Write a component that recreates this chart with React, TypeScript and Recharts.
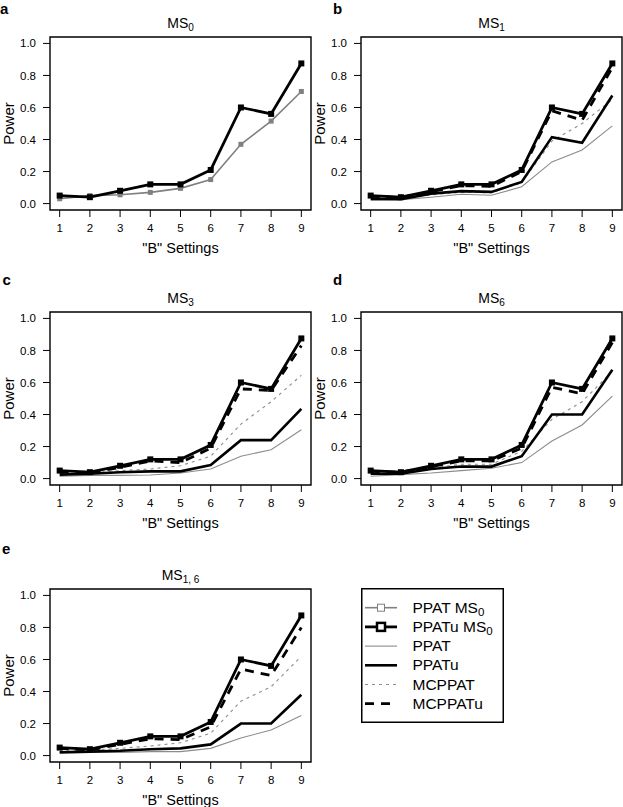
import React from 'react';
import { LineChart, Line, XAxis, YAxis, ReferenceArea } from 'recharts';

// ---------- data ----------
const settings = [1, 2, 3, 4, 5, 6, 7, 8, 9];
const yTicks = [0, 0.2, 0.4, 0.6, 0.8, 1.0];

const ppatMS0 = [0.03, 0.05, 0.055, 0.07, 0.095, 0.15, 0.37, 0.515, 0.7];
const ppatuMS0 = [0.05, 0.04, 0.08, 0.12, 0.12, 0.21, 0.6, 0.56, 0.875];

const ms1PPAT = [0.02, 0.025, 0.04, 0.058, 0.052, 0.105, 0.26, 0.335, 0.485];
const ms1PPATu = [0.03, 0.027, 0.062, 0.078, 0.073, 0.135, 0.415, 0.38, 0.675];
const ms1MCPPAT = [0.035, 0.03, 0.055, 0.07, 0.068, 0.13, 0.39, 0.5, 0.65];
const ms1MCPPATu = [0.045, 0.038, 0.075, 0.112, 0.108, 0.2, 0.58, 0.52, 0.85];

const ms3PPAT = [0.015, 0.02, 0.02, 0.022, 0.035, 0.06, 0.14, 0.18, 0.305];
const ms3PPATu = [0.025, 0.03, 0.04, 0.045, 0.045, 0.085, 0.24, 0.24, 0.435];
const ms3MCPPAT = [0.03, 0.035, 0.05, 0.06, 0.08, 0.14, 0.34, 0.48, 0.645];
const ms3MCPPATu = [0.04, 0.035, 0.07, 0.11, 0.1, 0.19, 0.56, 0.55, 0.83];

const ms6PPAT = [0.015, 0.025, 0.035, 0.05, 0.065, 0.1, 0.235, 0.335, 0.515];
const ms6PPATu = [0.03, 0.03, 0.06, 0.075, 0.075, 0.14, 0.4, 0.4, 0.68];
const ms6MCPPAT = [0.035, 0.03, 0.065, 0.09, 0.09, 0.17, 0.37, 0.48, 0.67];
const ms6MCPPATu = [0.045, 0.04, 0.075, 0.11, 0.11, 0.19, 0.57, 0.53, 0.85];

const ms16PPAT = [0.02, 0.02, 0.02, 0.025, 0.025, 0.045, 0.11, 0.16, 0.25];
const ms16PPATu = [0.02, 0.025, 0.03, 0.04, 0.045, 0.07, 0.2, 0.2, 0.38];
const ms16MCPPAT = [0.035, 0.035, 0.045, 0.06, 0.08, 0.14, 0.34, 0.43, 0.62];
const ms16MCPPATu = [0.045, 0.035, 0.07, 0.105, 0.1, 0.18, 0.54, 0.5, 0.8];

// ---------- styles ----------
const FONT = '"Liberation Sans", Arial, Helvetica, sans-serif';
const GRAY = '#808080';
const LIGHTGRAY = '#8c8c8c';

type SeriesKey = 'ppatMS0' | 'ppatuMS0' | 'ppat' | 'ppatu' | 'mcppat' | 'mcppatu';

const makeSquare = (fill: string, size: number) => (p: any) => {
  if (p.cx == null || p.cy == null) return <g key={`e-${p.index}`} />;
  return (
    <rect
      key={`sq-${p.index}`}
      x={p.cx - size / 2}
      y={p.cy - size / 2}
      width={size}
      height={size}
      fill={fill}
    />
  );
};

const seriesStyle: Record<SeriesKey, any> = {
  ppatMS0: { stroke: GRAY, strokeWidth: 1.6, dot: makeSquare(GRAY, 5) },
  ppatuMS0: { stroke: '#000', strokeWidth: 2.8, dot: makeSquare('#000', 6) },
  ppat: { stroke: LIGHTGRAY, strokeWidth: 1.1, dot: false },
  ppatu: { stroke: '#000', strokeWidth: 2.6, dot: false },
  mcppat: { stroke: LIGHTGRAY, strokeWidth: 1.1, strokeDasharray: '3 4', dot: false },
  mcppatu: { stroke: '#000', strokeWidth: 2.8, strokeDasharray: '9 7', dot: false },
};

const drawOrder: SeriesKey[] = ['ppat', 'mcppat', 'ppatu', 'mcppatu', 'ppatMS0', 'ppatuMS0'];

function buildRows(series: Partial<Record<SeriesKey, number[]>>) {
  return settings.map((s, i) => {
    const row: any = { s };
    (Object.keys(series) as SeriesKey[]).forEach((k) => {
      row[k] = (series[k] as number[])[i];
    });
    return row;
  });
}

const panels = [
  {
    id: 'a', left: 0, top: 0, letterLeft: 0, letterTop: 0, sub: '0',
    series: { ppatMS0, ppatuMS0 },
  },
  {
    id: 'b', left: 311, top: 0, letterLeft: 333, letterTop: 0, sub: '1',
    series: { ppat: ms1PPAT, mcppat: ms1MCPPAT, ppatu: ms1PPATu, mcppatu: ms1MCPPATu, ppatuMS0 },
  },
  {
    id: 'c', left: 0, top: 275, letterLeft: 2.5, letterTop: 270.5, sub: '3',
    series: { ppat: ms3PPAT, mcppat: ms3MCPPAT, ppatu: ms3PPATu, mcppatu: ms3MCPPATu, ppatuMS0 },
  },
  {
    id: 'd', left: 311, top: 275, letterLeft: 333, letterTop: 270.5, sub: '6',
    series: { ppat: ms6PPAT, mcppat: ms6MCPPAT, ppatu: ms6PPATu, mcppatu: ms6MCPPATu, ppatuMS0 },
  },
  {
    id: 'e', left: 0, top: 552, letterLeft: 2, letterTop: 540, sub: '1, 6',
    series: { ppat: ms16PPAT, mcppat: ms16MCPPAT, ppatu: ms16PPATu, mcppatu: ms16MCPPATu, ppatuMS0 },
  },
];

const CHART_W = 313;
const CHART_H = 262;
const PLOT_L = 50;
const PLOT_T = 37;
const PLOT_W = 261;
const PLOT_H = 173;

function Panel({ p }: { p: any }) {
  const rows = buildRows(p.series);
  const keys = drawOrder.filter((k) => k in p.series);
  return (
    <div style={{ position: 'absolute', left: p.left, top: p.top, width: CHART_W, height: CHART_H }}>
      <LineChart
        width={CHART_W}
        height={CHART_H}
        data={rows}
        margin={{ top: PLOT_T, right: CHART_W - PLOT_L - PLOT_W, bottom: 0, left: 0 }}
      >
        <XAxis
          dataKey="s"
          type="number"
          domain={[0.68, 9.32]}
          ticks={settings}
          interval={0}
          allowDataOverflow
          axisLine={false}
          tickLine={{ stroke: '#000', strokeWidth: 1 }}
          tickSize={7}
          tickMargin={7}
          height={CHART_H - PLOT_T - PLOT_H}
          tick={{ fill: '#000', fontSize: 11.5, fontFamily: FONT }}
        />
        <YAxis
          type="number"
          domain={[-0.04, 1.04]}
          ticks={yTicks}
          interval={0}
          allowDataOverflow
          axisLine={false}
          tickLine={{ stroke: '#000', strokeWidth: 1 }}
          tickSize={7}
          tickMargin={7}
          width={PLOT_L}
          tickFormatter={(v: number) => v.toFixed(1)}
          tick={{ fill: '#000', fontSize: 11.5, fontFamily: FONT }}
        />
        {keys.map((k) => (
          <Line
            key={k}
            type="linear"
            dataKey={k}
            isAnimationActive={false}
            activeDot={false}
            {...seriesStyle[k]}
          />
        ))}
        <ReferenceArea
          x1={0.68}
          x2={9.32}
          y1={-0.04}
          y2={1.04}
          fill="none"
          fillOpacity={0}
          stroke="#000"
          strokeWidth={1.4}
          ifOverflow="visible"
        />
      </LineChart>
      {/* title */}
      <div
        style={{
          position: 'absolute', left: PLOT_L, top: 16.3, width: PLOT_W, textAlign: 'center',
          fontFamily: FONT, fontSize: 14, lineHeight: '14px', color: '#000', whiteSpace: 'nowrap',
        }}
      >
        MS<span style={{ fontSize: 10, verticalAlign: '-3px' }}>{p.sub}</span>
      </div>
      {/* x label */}
      <div
        style={{
          position: 'absolute', left: PLOT_L, top: 241, width: PLOT_W, textAlign: 'center',
          fontFamily: FONT, fontSize: 14.5, lineHeight: '15px', color: '#000', whiteSpace: 'nowrap',
        }}
      >
        "B" Settings
      </div>
      {/* y label */}
      <div
        style={{
          position: 'absolute', left: 8 - PLOT_H / 2, top: PLOT_T + PLOT_H / 2 - 7.5, width: PLOT_H,
          textAlign: 'center', fontFamily: FONT, fontSize: 15, lineHeight: '15px', color: '#000',
          transform: 'rotate(-90deg)', transformOrigin: 'center center', whiteSpace: 'nowrap',
        }}
      >
        Power
      </div>
    </div>
  );
}

const legendItems: { key: SeriesKey; label: string; sub?: string; marker?: 'open' | 'bold' }[] = [
  { key: 'ppatMS0', label: 'PPAT MS', sub: '0', marker: 'open' },
  { key: 'ppatuMS0', label: 'PPATu MS', sub: '0', marker: 'bold' },
  { key: 'ppat', label: 'PPAT' },
  { key: 'ppatu', label: 'PPATu' },
  { key: 'mcppat', label: 'MCPPAT' },
  { key: 'mcppatu', label: 'MCPPATu' },
];

function LegendBox() {
  const L = 361, T = 588, W = 143, H = 135;
  const rowY0 = 19.7, rowGap = 19.2;
  return (
    <div style={{ position: 'absolute', left: L, top: T, width: W, height: H }}>
      <svg width={W} height={H} style={{ position: 'absolute', left: 0, top: 0 }}>
        <rect x={0.75} y={0.75} width={W - 1.5} height={H - 1.5} fill="#fff" stroke="#000" strokeWidth={1.5} />
        {legendItems.map((it, i) => {
          const st = seriesStyle[it.key];
          const y = rowY0 + i * rowGap;
          return (
            <g key={it.key}>
              <line
                x1={4}
                x2={36}
                y1={y}
                y2={y}
                stroke={st.stroke}
                strokeWidth={st.strokeWidth}
                strokeDasharray={st.strokeDasharray}
              />
              {it.marker === 'open' && (
                <rect x={16.5} y={y - 3.5} width={7} height={7} fill="#fff" stroke={GRAY} strokeWidth={1} />
              )}
              {it.marker === 'bold' && (
                <rect x={16} y={y - 4} width={8} height={8} fill="#fff" stroke="#000" strokeWidth={2.5} />
              )}
            </g>
          );
        })}
      </svg>
      {legendItems.map((it, i) => (
        <div
          key={it.key}
          style={{
            position: 'absolute', left: 51.5, top: rowY0 + i * rowGap - 8, fontFamily: FONT,
            fontSize: 15.5, lineHeight: '16px', color: '#000', whiteSpace: 'nowrap',
          }}
        >
          {it.label}
          {it.sub && <span style={{ fontSize: 11.5, verticalAlign: '-3px' }}>{it.sub}</span>}
        </div>
      ))}
    </div>
  );
}

export default function App() {
  return (
    <div
      style={{
        position: 'absolute', left: 0, top: 0, width: 623, height: 807, background: '#fff',
        overflow: 'hidden', fontFamily: FONT,
      }}
    >
      {panels.map((p) => (
        <React.Fragment key={p.id}>
          <Panel p={p} />
          <div
            style={{
              position: 'absolute', left: p.letterLeft, top: p.letterTop, fontFamily: FONT,
              fontWeight: 'bold', fontSize: 15, lineHeight: '17px', color: '#000',
            }}
          >
            {p.id}
          </div>
        </React.Fragment>
      ))}
      <LegendBox />
    </div>
  );
}
